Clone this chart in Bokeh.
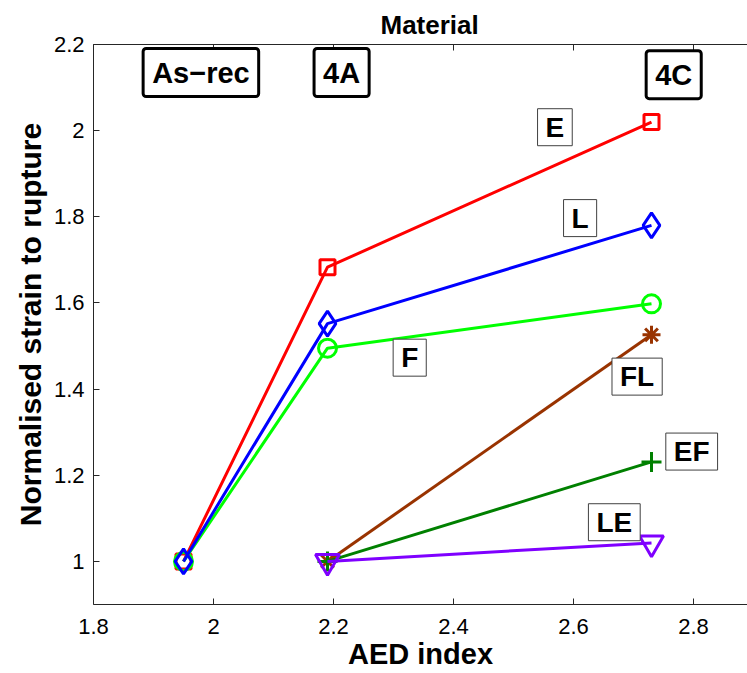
from bokeh.plotting import figure
from bokeh.models import Range1d, LinearAxis, Label, FixedTicker, CustomJSTickFormatter
from bokeh.embed import file_html
from bokeh.resources import INLINE

# AED index of each material state
materials = ["As\u2212rec", "4A", "4C"]
aed = [1.95, 2.19, 2.73]

# Normalised strain to rupture for each processing route
strain_E = [1.00, 1.683, 2.020]
strain_F = [1.00, 1.495, 1.598]
strain_L = [1.00, 1.552, 1.780]
# routes measured from 4A onwards
strain_FL = [1.00, 1.526]
strain_EF = [1.00, 1.231]
strain_LE = [1.00, 1.043]

x_ticks = [1.8, 2.0, 2.2, 2.4, 2.6, 2.8]
y_ticks = [1.0, 1.2, 1.4, 1.6, 1.8, 2.0, 2.2]

FONT = "Liberation Sans"
AXIS_COL = "#262626"

p = figure(width=747, height=673,
           x_range=Range1d(1.8, 2.89), y_range=Range1d(0.9, 2.2),
           output_backend="svg", toolbar_location=None,
           min_border_left=93, min_border_right=0,
           min_border_top=44, min_border_bottom=69)
p.outline_line_color = None
p.xgrid.visible = False
p.ygrid.visible = False
p.background_fill_color = "white"
p.border_fill_color = "white"

fmt = CustomJSTickFormatter(code="return tick.toString();")

def style_axis(ax, ticks):
    ax.ticker = FixedTicker(ticks=ticks)
    ax.formatter = fmt
    ax.major_tick_in = 6
    ax.major_tick_out = 0
    ax.minor_tick_line_color = None
    ax.axis_line_color = AXIS_COL
    ax.axis_line_width = 1
    ax.major_tick_line_color = AXIS_COL
    ax.major_label_text_font = FONT
    ax.major_label_text_font_size = "22px"
    ax.major_label_text_color = "black"
    ax.axis_label_text_font = FONT
    ax.axis_label_text_font_style = "bold"
    ax.axis_label_text_color = "black"

xax = p.below[0]
yax = p.left[0]
style_axis(xax, x_ticks)
style_axis(yax, y_ticks)
xax.axis_label = "AED index"
xax.axis_label_text_font_size = "29px"
xax.major_label_standoff = 14
xax.axis_label_standoff = 1
yax.axis_label = "Normalised strain to rupture"
yax.axis_label_text_font_size = "30px"
yax.major_label_standoff = 9
yax.axis_label_standoff = 4

# top frame edge with inward ticks, no labels
top = LinearAxis(ticker=FixedTicker(ticks=x_ticks), major_tick_in=6, major_tick_out=0,
                 minor_tick_line_color=None, axis_line_color=AXIS_COL,
                 major_tick_line_color=AXIS_COL, major_label_text_color=None,
                 major_label_text_font_size="1px", major_label_standoff=0)
p.add_layout(top, "above")

p.title.text = "Material"
p.title.align = "left"
p.title.offset = 287
p.title.text_font = FONT
p.title.text_font_size = "26px"
p.title.text_font_style = "bold"
p.title.text_color = "black"
p.title.standoff = 10

LW = 3
series = [
    (aed, strain_E, "#FF0000", "square", 15),
    (aed, strain_F, "#00FF00", "circle", 18),
    (aed, strain_L, "#0000FF", "diamond", 25),
    (aed[1:], strain_FL, "#993300", "asterisk", 18),
    (aed[1:], strain_EF, "#008000", "cross", 20),
    (aed[1:], strain_LE, "#7F00FF", "inverted_triangle", 24),
]
for xs, ys, col, mk, sz in series:
    p.line(xs, ys, line_color=col, line_width=LW)
    p.scatter(xs, ys, marker=mk, size=sz, fill_color=None,
              line_color=col, line_width=LW)

# material state tags along the top
state_pos = [(1.979, 2.135), (2.2135, 2.135), (2.767, 2.130)]
for name, (lx, ly) in zip(materials, state_pos):
    p.add_layout(Label(x=lx, y=ly, text=name, text_align="center", text_baseline="middle",
                       text_font=FONT, text_font_size="29px", text_font_style="bold",
                       text_color="black", background_fill_color="white",
                       border_line_color="black", border_line_width=3, border_radius=3,
                       padding=(9, 8)))

# route tags beside each line
route_tags = [("E", 2.569, 2.008), ("L", 2.611, 1.797), ("F", 2.327, 1.473),
              ("FL", 2.706, 1.429), ("EF", 2.797, 1.255), ("LE", 2.668, 1.091)]
for name, lx, ly in route_tags:
    p.add_layout(Label(x=lx, y=ly, text=name, text_align="center", text_baseline="middle",
                       text_font=FONT, text_font_size="28px", text_font_style="bold",
                       text_color="black", background_fill_color="white",
                       border_line_color="#404040", border_line_width=1,
                       padding=(8, 3)))

open("out.html", "w").write(file_html(p, INLINE))
